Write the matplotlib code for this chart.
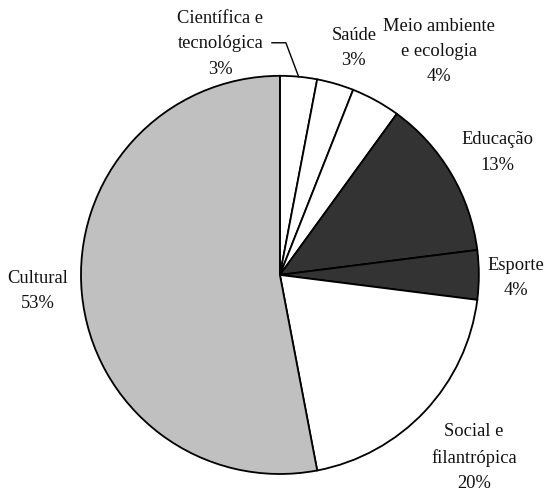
import numpy as np
import matplotlib.pyplot as plt

plt.rcParams['font.family'] = ['Liberation Serif', 'DejaVu Serif']

areas = ["Científica e\ntecnológica", "Saúde", "Meio ambiente\ne ecologia",
         "Educação", "Esporte", "Social e\nfilantrópica", "Cultural"]
shares = [3, 3, 4, 13, 4, 20, 53]
fills = ["white", "white", "white", "#333333", "#333333", "white", "#c0c0c0"]

# where each label sits (data units, pie radius = 1)
label_xy = [(-0.30, 1.16), (0.372, 1.14), (0.80, 1.12), (1.095, 0.615),
            (1.186, -0.015), (0.975, -0.918), (-1.216, -0.08)]

fig = plt.figure(figsize=(5.45, 4.94), dpi=100)
ax = fig.add_axes([0.1486, 0.0405, 0.730, 0.806])

wedges, _ = ax.pie(shares, colors=fills, startangle=90, counterclock=False,
                   radius=1, wedgeprops=dict(edgecolor="black", linewidth=1.3))
ax.set_xlim(-1, 1)
ax.set_ylim(-1, 1)
ax.set_aspect("auto")
ax.axis("off")

for name, val, (x, y) in zip(areas, shares, label_xy):
    ax.text(x, y, f"{name}\n{val}%", ha="center", va="center", fontsize=13.3,
            linespacing=1.62, color="#111111")

# leader line for the first (small) slice
w = wedges[0]
mid = np.deg2rad((w.theta1 + w.theta2) / 2)
ex, ey = np.cos(mid), np.sin(mid)
ax.plot([-0.04, 0.03, ex], [1.166, 1.166, ey], color="black", lw=1.0,
        clip_on=False)

fig.savefig("out.png", dpi=100)
